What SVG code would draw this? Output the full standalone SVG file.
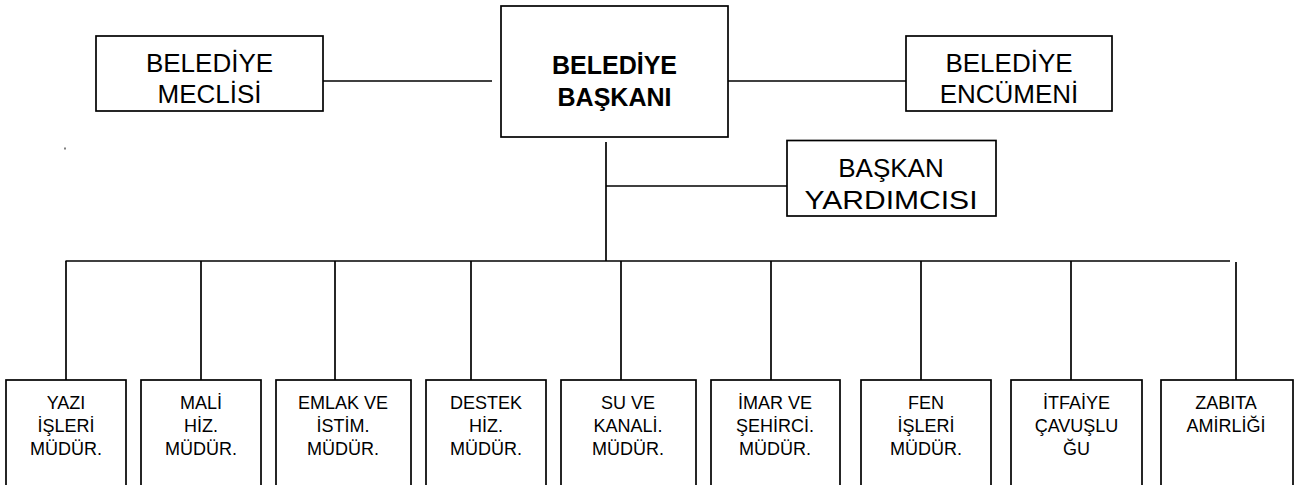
<svg xmlns="http://www.w3.org/2000/svg" width="1303" height="485" viewBox="0 0 1303 485">
<style>
.box{fill:#fff;stroke:#000;stroke-width:1.7}
.ln{stroke:#000;stroke-width:1.7;fill:none}
.t{font-family:"Liberation Sans",Arial,sans-serif;text-anchor:middle;fill:#000}
.big{font-size:26px}
.bold{font-size:25px;font-weight:bold}
.sm{font-size:18px}
</style>
<rect width="1303" height="485" fill="#fff"/>
<g id="connectors">
<line class="ln" x1="322" y1="81" x2="492" y2="81"/>
<line class="ln" x1="726" y1="81" x2="906" y2="81"/>
<line class="ln" x1="606" y1="142" x2="606" y2="261"/>
<line class="ln" x1="606" y1="186" x2="787" y2="186"/>
<line class="ln" x1="65.5" y1="261" x2="1230" y2="261"/>
<line class="ln" x1="66" y1="261" x2="66" y2="380"/>
<line class="ln" x1="201" y1="261" x2="201" y2="380"/>
<line class="ln" x1="335" y1="261" x2="335" y2="380"/>
<line class="ln" x1="471" y1="261" x2="471" y2="380"/>
<line class="ln" x1="621" y1="261" x2="621" y2="380"/>
<line class="ln" x1="771" y1="261" x2="771" y2="380"/>
<line class="ln" x1="921" y1="261" x2="921" y2="380"/>
<line class="ln" x1="1071" y1="261" x2="1071" y2="380"/>
<line class="ln" x1="1236" y1="262" x2="1236" y2="380"/>
</g>
<rect x="64.5" y="147.5" width="1" height="2" fill="#000"/>
<g id="meclis">
<rect class="box" x="96" y="36" width="227" height="75"/>
<text class="t big" x="209.5" y="72">BELEDİYE</text>
<text class="t big" x="209.5" y="103">MECLİSİ</text>
</g>
<g id="baskan">
<rect class="box" x="501" y="6" width="227" height="131"/>
<text class="t bold" x="614.5" y="74">BELEDİYE</text>
<text class="t bold" x="614.5" y="106">BAŞKANI</text>
</g>
<g id="encumen">
<rect class="box" x="906" y="36" width="206" height="75"/>
<text class="t big" x="1009" y="72">BELEDİYE</text>
<text class="t big" x="1009" y="103">ENCÜMENİ</text>
</g>
<g id="yardimci">
<rect class="box" x="787" y="140.5" width="209" height="75.5"/>
<text class="t big" x="891" y="177">BAŞKAN</text>
<text class="t big" x="891" y="208.5" textLength="173" lengthAdjust="spacingAndGlyphs">YARDIMCISI</text>
</g>
<g id="yazi">
<rect class="box" x="6" y="380" width="120" height="120"/>
<text class="t sm" x="66" y="409">YAZI</text>
<text class="t sm" x="66" y="432">İŞLERİ</text>
<text class="t sm" x="66" y="455">MÜDÜR.</text>
</g>
<g id="mali">
<rect class="box" x="141" y="380" width="120" height="120"/>
<text class="t sm" x="201" y="409">MALİ</text>
<text class="t sm" x="201" y="432">HİZ.</text>
<text class="t sm" x="201" y="455">MÜDÜR.</text>
</g>
<g id="emlak">
<rect class="box" x="276" y="380" width="135" height="120"/>
<text class="t sm" x="343" y="409">EMLAK VE</text>
<text class="t sm" x="343" y="432">İSTİM.</text>
<text class="t sm" x="343" y="455">MÜDÜR.</text>
</g>
<g id="destek">
<rect class="box" x="426" y="380" width="120" height="120"/>
<text class="t sm" x="486" y="409">DESTEK</text>
<text class="t sm" x="486" y="432">HİZ.</text>
<text class="t sm" x="486" y="455">MÜDÜR.</text>
</g>
<g id="su">
<rect class="box" x="561" y="380" width="135" height="120"/>
<text class="t sm" x="628" y="409">SU VE</text>
<text class="t sm" x="628" y="432">KANALİ.</text>
<text class="t sm" x="628" y="455">MÜDÜR.</text>
</g>
<g id="imar">
<rect class="box" x="711" y="380" width="129" height="120"/>
<text class="t sm" x="775" y="409">İMAR VE</text>
<text class="t sm" x="775" y="432">ŞEHİRCİ.</text>
<text class="t sm" x="775" y="455">MÜDÜR.</text>
</g>
<g id="fen">
<rect class="box" x="861" y="380" width="130" height="120"/>
<text class="t sm" x="926" y="409">FEN</text>
<text class="t sm" x="926" y="432">İŞLERİ</text>
<text class="t sm" x="926" y="455">MÜDÜR.</text>
</g>
<g id="itfaiye">
<rect class="box" x="1011" y="380" width="131" height="120"/>
<text class="t sm" x="1076.5" y="409">İTFAİYE</text>
<text class="t sm" x="1076.5" y="432">ÇAVUŞLU</text>
<text class="t sm" x="1076.5" y="455">ĞU</text>
</g>
<g id="zabita">
<rect class="box" x="1161" y="380" width="132" height="120"/>
<text class="t sm" x="1226" y="409">ZABITA</text>
<text class="t sm" x="1226" y="432">AMİRLİĞİ</text>
</g>
</svg>
